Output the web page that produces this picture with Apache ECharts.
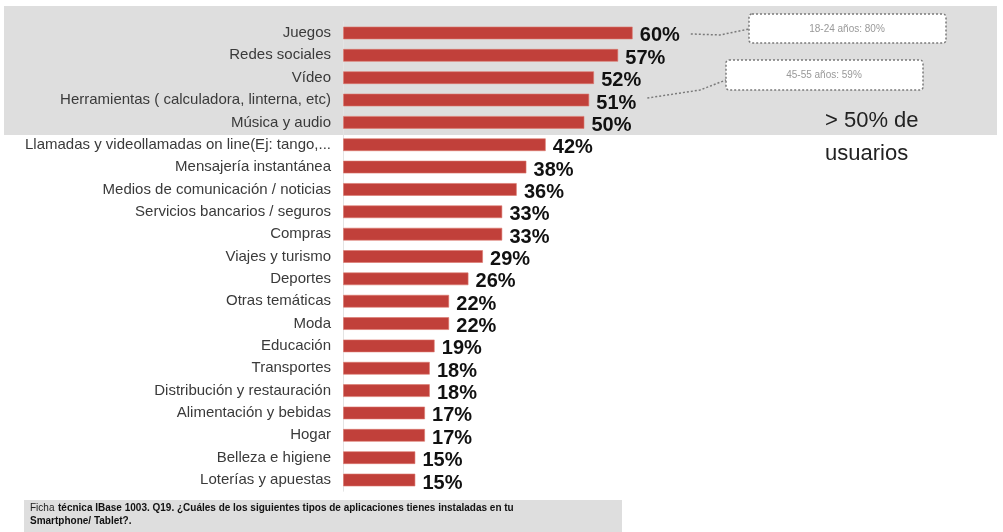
<!DOCTYPE html>
<html><head><meta charset="utf-8">
<script src="https://cdn.jsdelivr.net/npm/echarts@6/dist/echarts.min.js"></script>
<style>html,body{margin:0;padding:0;background:#fff}#c{width:1003px;height:532px}</style>
</head><body><div id="c"></div>
<script>
const categories = ["Juegos","Redes sociales","Vídeo","Herramientas ( calculadora, linterna, etc)","Música y audio","Llamadas y videollamadas on line(Ej: tango,...","Mensajería instantánea","Medios de comunicación / noticias","Servicios bancarios / seguros","Compras","Viajes y turismo","Deportes","Otras temáticas","Moda","Educación","Transportes","Distribución y restauración","Alimentación y bebidas","Hogar","Belleza e higiene","Loterías y apuestas"];
const values = [60,57,52,51,50,42,38,36,33,33,29,26,22,22,19,18,18,17,17,15,15];
const notes = ["18-24 años: 80%","45-55 años: 59%"];
const footerNote = "Ficha técnica IBase 1003. Q19. ¿Cuáles de los siguientes tipos de aplicaciones tienes instaladas en tu";
const footerNote2 = "Smartphone/ Tablet?.";

const chart = echarts.init(document.getElementById('c'));
const F = "'Liberation Sans', Arial, Helvetica, sans-serif";
chart.setOption({
  animation:false,
  grid:{left:343,right:177,top:21.8,bottom:40.8,containLabel:false},
  xAxis:{type:'value',min:0,max:100,show:false},
  yAxis:{type:'category',data:categories,inverse:true,
    axisLine:{show:true,lineStyle:{color:'#e4e4e4',width:1}},axisTick:{show:false},
    axisLabel:{color:'#3a3a3a',fontSize:15,fontFamily:F,margin:12}},
  series:[{type:'bar',data:values,barWidth:13,
    itemStyle:{color:'#c1403a',borderColor:'rgba(220,120,110,0.6)',borderWidth:1},
    label:{show:true,position:'right',distance:7,formatter:'{c}%',color:'#111',fontSize:20,fontWeight:'bold',fontFamily:F,offset:[0,3]}}]
});

function px(i){return chart.convertToPixel({xAxisIndex:0,yAxisIndex:0},[values[i],i]);}
const p0 = px(0), p3 = px(3);
chart.setOption({graphic:[
  {type:'rect',z:-10,silent:true,shape:{x:4,y:6,width:993,height:129},style:{fill:'#dedede'}},
  {type:'rect',z:-10,silent:true,shape:{x:24,y:500,width:598,height:32},style:{fill:'#dedede'}},
  {type:'text',x:30,y:503,style:{text:'Ficha ',font:'10px '+F,fill:'#222'}},
  {type:'text',x:58,y:503,style:{text:footerNote.slice(6),font:'bold 10px '+F,fill:'#111'}},
  {type:'text',x:30,y:516,style:{text:footerNote2,font:'bold 10px '+F,fill:'#111'}},
  {type:'rect',shape:{x:749,y:14,width:197,height:29,r:3},style:{fill:'#fff',stroke:'#7a7a7a',lineWidth:1.5,lineDash:[2,2]}},
  {type:'text',style:{x:847,y:29,text:notes[0],font:'10px '+F,fill:'#999',align:'center',verticalAlign:'middle'}},
  {type:'rect',shape:{x:726,y:60,width:197,height:30,r:3},style:{fill:'#fff',stroke:'#7a7a7a',lineWidth:1.5,lineDash:[2,2]}},
  {type:'text',style:{x:824,y:75,text:notes[1],font:'10px '+F,fill:'#999',align:'center',verticalAlign:'middle'}},
  {type:'polyline',shape:{points:[[p0[0]+58,p0[1]+1],[720,p0[1]+2],[749,29]]},style:{stroke:'#7a7a7a',lineWidth:1.5,lineDash:[2,2],fill:null}},
  {type:'polyline',shape:{points:[[p3[0]+58,p3[1]-2],[700,p3[1]-10],[726,80]]},style:{stroke:'#7a7a7a',lineWidth:1.5,lineDash:[2,2],fill:null}},
  {type:'text',x:825,y:110,style:{text:'> 50% de',font:'22px '+F,fill:'#222'}},
  {type:'text',x:825,y:143,style:{text:'usuarios',font:'22px '+F,fill:'#222'}}
]});
</script></body></html>
